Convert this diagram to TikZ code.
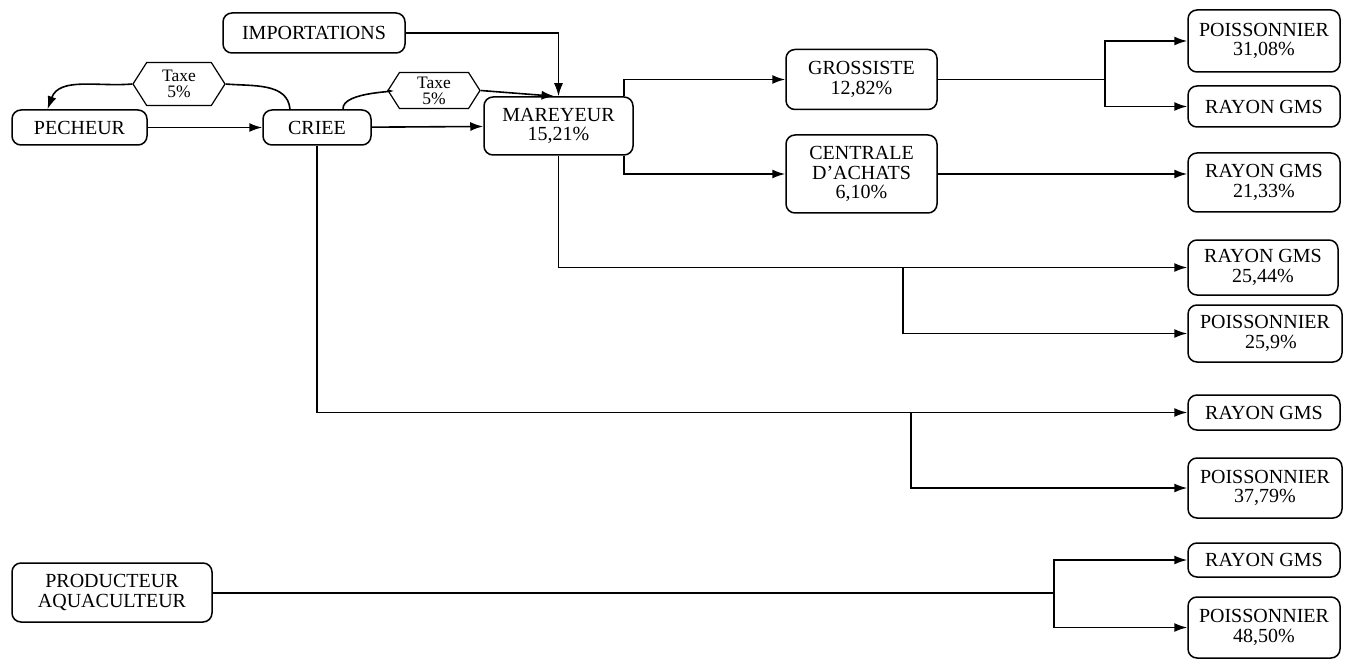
\documentclass[tikz,border=0pt]{standalone}
\usepackage{fontspec}
\setmainfont{Liberation Serif}
\usetikzlibrary{arrows.meta,shapes.symbols}
\begin{document}
\begin{tikzpicture}[x=1pt,y=-1pt,
  box/.style={draw, rounded corners=9pt, line width=1.5pt, align=center, inner sep=1pt,
    font=\fontsize{20}{19.5}\selectfont},
  hexa/.style={draw, shape=signal, signal to=west and east, signal pointer angle=115,
    line width=1.2pt, align=center, inner sep=0.5pt, font=\fontsize{17.5}{16}\selectfont},
  conn/.style={line width=1.6pt},
  arr/.style={conn, -{Latex[length=13pt,width=9pt]}}]
\useasboundingbox (0,0) rectangle (1349,671);
% nodes
\node[box, minimum width=135pt, minimum height=35pt] (pech) at (79.5,127.5) {PECHEUR};
\node[box, minimum width=108pt, minimum height=35pt] (criee) at (317,127.5) {CRIEE};
\node[box, minimum width=182pt, minimum height=40pt] (imp) at (314,33) {IMPORTATIONS};
\node[box, minimum width=149pt, minimum height=58pt] (mar) at (558.5,126) {MAREYEUR\\15,21\%};
\node[box, minimum width=151pt, minimum height=60pt] (gros) at (861.5,79.5) {GROSSISTE\\12,82\%};
\node[box, minimum width=151pt, minimum height=78pt] (cent) at (861.5,174) {CENTRALE\\D'ACHATS\\6,10\%};
\node[box, minimum width=152pt, minimum height=62pt] (p1) at (1264,41) {POISSONNIER\\31,08\%};
\node[box, minimum width=152pt, minimum height=41pt] (r1) at (1264,106.5) {RAYON GMS};
\node[box, minimum width=152pt, minimum height=59pt] (r2) at (1264,182.5) {RAYON GMS\\21,33\%};
\node[box, minimum width=150pt, minimum height=55pt] (r3) at (1263,267.5) {RAYON GMS\\25,44\%};
\node[box, minimum width=154pt, minimum height=57pt] (p2) at (1265,333.5) {POISSONNIER\\\hspace*{12pt}25,9\%};
\node[box, minimum width=152pt, minimum height=35pt] (r4) at (1264,412.5) {RAYON GMS};
\node[box, minimum width=154pt, minimum height=60pt] (p3) at (1265,488) {POISSONNIER\\37,79\%};
\node[box, minimum width=152pt, minimum height=34pt] (r5) at (1264,560) {RAYON GMS};
\node[box, minimum width=152pt, minimum height=61pt] (p4) at (1264,627.5) {POISSONNIER\\48,50\%};
\node[box, minimum width=200pt, minimum height=59pt] (prod) at (112,592.5) {PRODUCTEUR\\AQUACULTEUR};
\node[hexa, minimum width=92pt, minimum height=43pt] (tl) at (179,84) {Taxe\\5\%};
\node[hexa, minimum width=92pt, minimum height=36pt] (tr) at (434,90.5) {Taxe\\5\%};
% junctions
\coordinate (j1) at (1105,79.5);
\coordinate (jm) at (903,267.5);
\coordinate (jc) at (911,412.5);
\coordinate (jp) at (1054,593);
% connectors
\draw[arr] (pech) -- (criee);
\draw[arr] (criee) -- (mar);
\draw[arr] (imp.east) -| (mar.north);
\draw[conn] ([xshift=26pt]criee.north) to[out=95,in=-5] (tr.west);
\draw[arr] (tr.east) -- ([xshift=-4pt]mar.north);
\draw[conn] ([xshift=-27pt]criee.north) to[out=95,in=-5] (tl.east);
\draw[arr] (tl.west) to[out=185,in=70] ([xshift=-32pt]pech.north);
\draw[arr] ([xshift=-10pt]mar.north east) |- (gros.west);
\draw[arr] ([xshift=-10pt]mar.south east) |- (cent.west);
\draw[arr] (mar.south) |- (r3.west);
\draw[arr] (jm) |- (p2.west);
\draw[arr] (criee.south) |- (r4.west);
\draw[arr] (jc) |- (p3.west);
\draw[conn] (gros.east) -- (j1);
\draw[arr] (j1) |- (p1.west);
\draw[arr] (j1) |- (r1.west);
\draw[arr] (cent.east) -- (cent.east -| r2.west);
\draw[conn] (prod.east |- jp) -- (jp);
\draw[arr] (jp) |- (r5.west);
\draw[arr] (jp) |- (p4.west);
\end{tikzpicture}
\end{document}
